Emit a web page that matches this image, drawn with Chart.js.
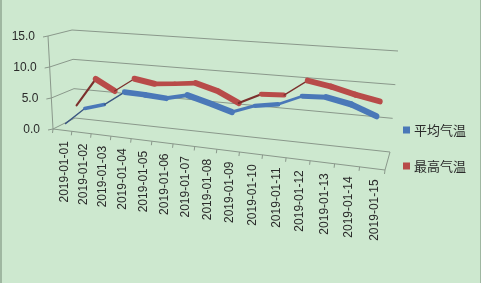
<!DOCTYPE html>
<html>
<head>
<meta charset="utf-8">
<script src="https://cdn.jsdelivr.net/npm/chart.js@4.4.0/dist/chart.umd.min.js"></script>
<style>
  html, body { margin: 0; padding: 0; background: #cde8cf; }
  canvas { display: block; }
</style>
</head>
<body>
<canvas id="myChart" width="481" height="283"></canvas>
<script>
// datos del grafico
const fechas = ['2019-01-01', '2019-01-02', '2019-01-03', '2019-01-04', '2019-01-05', '2019-01-06', '2019-01-07', '2019-01-08', '2019-01-09', '2019-01-10', '2019-01-11', '2019-01-12', '2019-01-13', '2019-01-14', '2019-01-15'];
const promedio = [1.0, 3.6, 4.5, 6.7, 6.6, 6.4, 7.2, 6.3, 5.3, 6.6, 7.2, 8.8, 9.0, 8.3, 6.9];
const maxima = [3.0, 7.4, 5.8, 8.0, 7.5, 7.8, 8.2, 7.3, 5.7, 7.4, 7.6, 10.2, 9.6, 8.7, 8.0];
const ticksY = [0, 5, 10, 15];
const nombres = ['平均气温', '最高气温'];

// caja 3d en pantalla: f = frente, b = fondo, l/r izq/der, b/t abajo/arriba
const caja = {
  flb: [53, 129], flt: [48, 36], frb: [385, 170], frt: [391, 64],
  blb: [75, 118], blt: [72, 30], brb: [390, 152], brt: [398, 51]
};
const profundidad = [0.25, 0.75];
const colores = ['#4a78b8', '#b84b49'];
const oscuros = ['#3a5680', '#7c302d'];
const colorGrilla = '#8a988b';
const colorTexto = '#2a2a2a';
const fuente = '12px "Liberation Sans", Arial, sans-serif';

function lerp(p, q, s) {
  return [p[0] + (q[0] - p[0]) * s, p[1] + (q[1] - p[1]) * s];
}
function punto(u, t, w) {
  let fb = lerp(caja.flb, caja.frb, u), ft = lerp(caja.flt, caja.frt, u);
  let bb = lerp(caja.blb, caja.brb, u), bt = lerp(caja.blt, caja.brt, u);
  return lerp(lerp(fb, ft, t), lerp(bb, bt, t), w);
}

// escala de categorias con algo de perspectiva (mas ancha a la derecha)
class EscalaPerspectiva extends Chart.CategoryScale {
  getPixelForDecimal(d) {
    return super.getPixelForDecimal(0.84 * d + 0.16 * d * d);
  }
}
EscalaPerspectiva.id = 'perspectiva';
EscalaPerspectiva.defaults = Chart.CategoryScale.defaults;
Chart.register(EscalaPerspectiva);

// matriz afin para el plano de cada serie
function matrizPlano(chart, w) {
  let a = chart.chartArea;
  let u0 = 0.5, t0 = 0.45;
  let p00 = punto(0, 0, w), p10 = punto(1, 0, w), p01 = punto(0, 1, w), p11 = punto(1, 1, w);
  let E = [p11[0] - p01[0] - p10[0] + p00[0], p11[1] - p01[1] - p10[1] + p00[1]];
  let Eu = [p10[0] - p00[0] + t0 * E[0], p10[1] - p00[1] + t0 * E[1]];
  let Et = [p01[0] - p00[0] + u0 * E[0], p01[1] - p00[1] + u0 * E[1]];
  let C = punto(u0, t0, w);
  let W = a.right - a.left, H = a.bottom - a.top;
  let ma = Eu[0] / W, mb = Eu[1] / W, mc = -Et[0] / H, md = -Et[1] / H;
  let me = C[0] - u0 * Eu[0] - t0 * Et[0] - a.left * ma - a.bottom * mc;
  let mf = C[1] - u0 * Eu[1] - t0 * Et[1] - a.left * mb - a.bottom * md;
  return [ma, mb, mc, md, me, mf];
}

// cinta 3d: grosor segun la pendiente
const cinta = [6, -4.5];
function cara(c) {
  let dx = c.p1.x - c.p0.x;
  let dy = (c.p1.y - c.p0.y) + 0.1 * dx;
  let len = Math.hypot(dx, dy) || 1;
  return (dx * cinta[1] - dy * cinta[0]) / len;
}

const marco3d = {
  id: 'marco3d',
  beforeDraw(chart) {
    let ctx = chart.ctx;
    ctx.save();
    ctx.fillStyle = '#cde8cf';
    ctx.fillRect(0, 0, chart.width, chart.height);
    ctx.fillStyle = '#9fb7a1';
    ctx.fillRect(0, 0, 2, chart.height);
    ctx.fillRect(chart.width - 1, 0, 1, chart.height);
    ctx.restore();
  },
  beforeDatasetsDraw(chart) {
    let ctx = chart.ctx, area = chart.chartArea;
    let xs = chart.scales.x, ys = chart.scales.y;
    let U = v => (xs.getPixelForValue(v) - area.left) / area.width;
    let T = v => (area.bottom - ys.getPixelForValue(v)) / area.height;
    function linea(p, q) {
      ctx.beginPath();
      ctx.moveTo(p[0], p[1]);
      ctx.lineTo(q[0], q[1]);
      ctx.stroke();
    }
    ctx.save();
    ctx.strokeStyle = colorGrilla;
    ctx.lineWidth = 1;
    ctx.fillStyle = colorTexto;
    ctx.font = fuente;
    ctx.textAlign = 'right';
    ctx.textBaseline = 'middle';
    ticksY.forEach(v => {
      let t = T(v);
      let p = punto(0, t, 0);
      linea(p, punto(0, t, 1));
      linea(punto(0, t, 1), punto(1, t, 1));
      linea(p, [p[0] - 5, p[1] + 1]);
      ctx.fillText(v.toFixed(1), p[0] - 13, p[1] + 1);
    });
    // eje y y piso
    linea(punto(0, 0, 0), punto(0, 1, 0));
    linea(punto(0, 0, 0), punto(1, 0, 0));
    linea(punto(1, 0, 0), punto(1, 0, 1));
    for (let k = 0; k <= fechas.length; k++) {
      let p = punto(U(k - 0.5), 0, 0);
      linea(p, [p[0] - 0.5, p[1] + 4]);
    }
    // fechas verticales
    fechas.forEach((f, i) => {
      let p = punto(U(i), 0, 0);
      ctx.save();
      ctx.translate(p[0] + 2, p[1] + 11);
      ctx.rotate(-Math.PI / 2);
      ctx.fillText(f, 0, 0);
      ctx.restore();
    });
    ctx.restore();
  },
  beforeDatasetDraw(chart, args) {
    let m = matrizPlano(chart, profundidad[args.index]);
    chart.ctx.save();
    chart.ctx.transform(m[0], m[1], m[2], m[3], m[4], m[5]);
  },
  afterDatasetDraw(chart) {
    chart.ctx.restore();
  },
  afterDraw(chart) {
    let ctx = chart.ctx;
    ctx.save();
    ctx.font = '13px "Noto Sans CJK SC", sans-serif';
    ctx.textBaseline = 'middle';
    ctx.textAlign = 'left';
    [130, 166].forEach((y, i) => {
      ctx.fillStyle = colores[i];
      ctx.fillRect(403, y - 3.5, 7, 7);
      ctx.fillStyle = colorTexto;
      ctx.fillText(chart.data.datasets[i].label, 414, y);
    });
    ctx.restore();
  }
};

function serie(nombre, valores, i) {
  return {
    label: nombre,
    data: valores,
    borderColor: colores[i],
    borderWidth: 5,
    pointRadius: 0,
    tension: 0,
    clip: false,
    borderCapStyle: 'round',
    borderJoinStyle: 'round',
    segment: {
      borderWidth: c => Math.min(6, Math.max(1.3, Math.abs(cara(c)))),
      borderColor: c => cara(c) > -2.2 ? oscuros[i] : colores[i]
    }
  };
}

let myChart = new Chart(document.getElementById('myChart'), {
  type: 'line',
  data: {
    labels: fechas,
    datasets: [serie(nombres[0], promedio, 0), serie(nombres[1], maxima, 1)]
  },
  options: {
    responsive: false,
    animation: false,
    layout: { padding: { left: 53, top: 36, right: 96, bottom: 154 } },
    plugins: { legend: { display: false }, tooltip: { enabled: false } },
    scales: {
      x: { type: 'perspectiva', display: false, offset: true },
      y: { display: false, min: 0, max: 15, ticks: { stepSize: 5 } }
    }
  },
  plugins: [marco3d]
});
</script>
</body>
</html>
